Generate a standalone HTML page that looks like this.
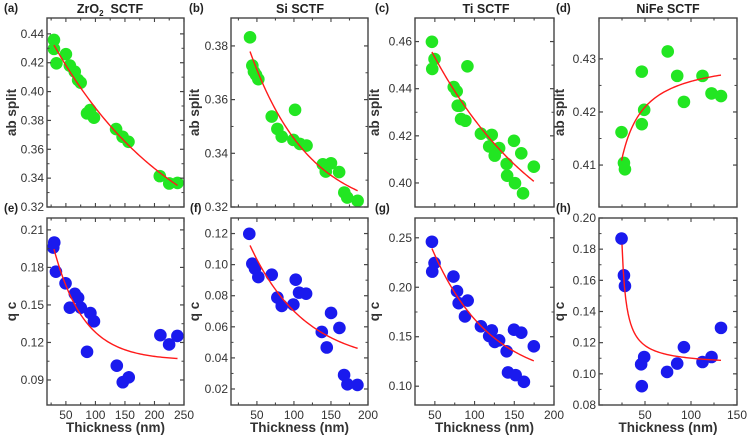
<!DOCTYPE html>
<html><head><meta charset="utf-8">
<style>
html,body{margin:0;padding:0;background:#fff;}
svg{display:block;font-family:"Liberation Sans",Arial,sans-serif;}
</style></head>
<body>
<svg id="fig" width="747" height="440" viewBox="0 0 747 440" xmlns="http://www.w3.org/2000/svg"></svg>
<script>
// ---- data (thickness nm, values) ----
const aX=[29.8,29.8,34,50,56.7,65,70.7,75,85.8,91,97.5,135,146,156,209,225,239];
const aY=[0.4358,0.4296,0.4196,0.4259,0.418,0.4138,0.408,0.4062,0.3849,0.3872,0.3819,0.374,0.3687,0.3652,0.3414,0.3363,0.3367];
const bX=[40.7,43.8,46,48.8,51.9,70,77.6,83.5,101.5,99.2,108,117,139,143,150,161,168,172,186];
const bY=[0.3832,0.3727,0.3704,0.3692,0.3676,0.3537,0.3491,0.3462,0.3562,0.345,0.3435,0.3429,0.3359,0.3332,0.3363,0.333,0.3254,0.3235,0.3223];
const cX=[46.3,49.6,46.7,91,73.8,77.5,78.8,81.7,83,88.4,108,121.6,118.4,130.9,125.4,140.4,141,149.6,150.9,158.8,161,174.6];
const cY=[0.4599,0.4526,0.4484,0.4495,0.4407,0.4389,0.4328,0.4328,0.4271,0.4264,0.4209,0.4204,0.4155,0.4148,0.4116,0.4081,0.4031,0.4179,0.3999,0.4126,0.3956,0.4069];
const dX=[24.5,27.1,28.2,46.5,46.5,49.1,74.7,85,92.3,112.5,122.3,132.6];
const dY=[0.4162,0.4104,0.4092,0.4276,0.4177,0.4204,0.4314,0.4268,0.4219,0.4268,0.4235,0.423];
const eX=[30.3,28.6,33.1,49.4,65.1,70.7,56.7,75.2,91.5,97.5,85.8,136.2,146.3,156.4,210,224.8,238.8];
const eY=[0.1999,0.1959,0.1766,0.1673,0.1589,0.1557,0.1478,0.1478,0.1435,0.1369,0.1125,0.1014,0.0882,0.0921,0.1258,0.1184,0.1252];
const fX=[39.7,43.8,47.4,51.9,70,77.6,83.5,99.2,102.4,106.9,116.4,137.6,144.3,150.1,161.4,167.7,172.2,185.7];
const fY=[0.1198,0.1006,0.0974,0.092,0.0935,0.0788,0.0734,0.0743,0.0903,0.082,0.0813,0.0567,0.0467,0.0689,0.0593,0.029,0.023,0.0226];
const gX=[46.3,49.6,46.7,73.4,77.9,80,91.3,87.9,108,121.7,118.4,125.4,130.9,140.4,142.1,149.6,151.7,158.8,162.1,174.6];
const gY=[0.246,0.2245,0.2158,0.2108,0.196,0.1839,0.1866,0.1705,0.1605,0.1564,0.1507,0.1447,0.1464,0.1353,0.1139,0.1571,0.1112,0.1541,0.1044,0.1403];
const hX=[24.5,27.1,28.2,45.8,49.1,46.5,74,85,92.3,112.5,122.3,132.6];
const hY=[0.1868,0.1632,0.1564,0.1061,0.1108,0.0921,0.1012,0.1066,0.1171,0.1076,0.1108,0.1295];
// fit parameters
const aFit=[0.2754,0.180,216]; const bFit=[0.316,0.103,80]; const cFit=[0.3601,0.130,150];
const dFit=[0.4306,-0.484,0]; const eFit=[0.1057,0.1595,51]; const fFit=[0.035,0.1331,75];
const gFit=[0.1019,0.259,73]; const hFit=[0.1052,0.3888,20];
// ticks
const aTicks=["0.32","0.34","0.36","0.38","0.40","0.42","0.44"];
const bTicks=["0.32","0.34","0.36","0.38"];
const cTicks=["0.40","0.42","0.44","0.46"];
const dTicks=["0.41","0.42","0.43"];
const eTicks=["0.09","0.12","0.15","0.18","0.21"];
const fTicks=["0.02","0.04","0.06","0.08","0.10","0.12"];
const gTicks=["0.10","0.15","0.20","0.25"];
const hTicks=["0.08","0.10","0.12","0.14","0.16","0.18","0.20"];
const xTicksE=["50","100","150","200","250"];
const xTicksF=["50","100","150","200"];
const xTicksG=["50","100","150","200"];
const xTicksH=["50","100","150"];

const NS="http://www.w3.org/2000/svg";
const svg=document.getElementById('fig');
function mk(tag,attrs,parent){const e=document.createElementNS(NS,tag);for(const k in attrs)e.setAttribute(k,attrs[k]);(parent||svg).appendChild(e);return e;}
function txt(s,attrs,parent){const e=mk('text',attrs,parent);e.textContent=s;return e;}

function fitFn(kind,p){
  if(kind==='exp')return x=>p[0]+p[1]*Math.exp(-x/p[2]);
  return x=>p[0]+p[1]/(x-p[2]);
}

function panel(o){
  const g=mk('g',{});
  
  
  const L=o.box[0],R=o.box[1],T=o.box[2],B=o.box[3];
  const sx=v=>L+(v-o.xr[0])/(o.xr[1]-o.xr[0])*(R-L);
  const sy=v=>B-(v-o.yr[0])/(o.yr[1]-o.yr[0])*(B-T);
  const f=fitFn(o.kind,o.fit);
  let d='';const n=80;
  for(let i=0;i<=n;i++){const x=o.fx[0]+(o.fx[1]-o.fx[0])*i/n;d+=(i?'L':'M')+sx(x).toFixed(2)+' '+sy(f(x)).toFixed(2);}
  for(let i=0;i<o.xs.length;i++){
    const c=mk('circle',{cx:sx(o.xs[i]),cy:sy(o.ys[i]),r:6.3,fill:o.color},g);
    
    
  }
  const fl=mk('path',{d:d,fill:'none',stroke:'#ff1a1a','stroke-width':1.4},g);
  
  
  const fr=mk('rect',{x:L,y:T,width:R-L,height:B-T,fill:'none',stroke:'#444','stroke-width':1.4},g);
  
  
  o.yt.forEach((s,i)=>{
    const v=parseFloat(s);const y=sy(v);
    mk('line',{x1:L,x2:L+4,y1:y,y2:y,stroke:'#444','stroke-width':1.2},g);
    mk('line',{x1:R,x2:R-4,y1:y,y2:y,stroke:'#444','stroke-width':1.2},g);
    const t=txt(s,{x:L-3,y:y+4,'font-size':12,'text-anchor':'end',fill:'#333'},g);
    
    
    if(i<o.yt.length-1){const vm=(v+parseFloat(o.yt[i+1]))/2;const ym=sy(vm);
      mk('line',{x1:L,x2:L+2.5,y1:ym,y2:ym,stroke:'#444','stroke-width':1},g);
      mk('line',{x1:R,x2:R-2.5,y1:ym,y2:ym,stroke:'#444','stroke-width':1},g);}
  });
  for(let v=o.xstep/2*Math.ceil(o.xr[0]/(o.xstep/2));v<=o.xr[1]+0.01;v+=o.xstep/2){
    const x=sx(v);const maj=Math.abs(v/o.xstep-Math.round(v/o.xstep))<0.01;const len=maj?4:2.5;
    mk('line',{x1:x,x2:x,y1:B,y2:B-len,stroke:'#444','stroke-width':1.1},g);
    mk('line',{x1:x,x2:x,y1:T,y2:T+len,stroke:'#444','stroke-width':1.1},g);
  }
  if(o.xt){o.xt.forEach(s=>{const x=sx(parseFloat(s));
    const t=txt(s,{x:x,y:B+14,'font-size':12,'text-anchor':'middle',fill:'#333'},g);
    
    });
    const xt=txt('Thickness (nm)',{x:(L+R)/2,y:B+27,'font-size':13.5,'font-weight':'bold','text-anchor':'middle',fill:'#333'},g);
    
    
  }
  const yl=txt(o.ylab,{x:0,y:0,'font-size':13.5,'font-weight':'bold','text-anchor':'middle',fill:'#333',transform:`translate(${o.ylx},${(T+B)/2}) rotate(-90)`},g);
  
  
  const pl=txt(o.lab,{x:o.labx,y:T-6,'font-size':11.5,'font-weight':'bold',fill:'#222'},g);
  
  
}

panel({name:'panel-a',box:[47,184,18,207],xr:[18,250],yr:[0.32,0.451],xs:aX,ys:aY,color:'#22e622',kind:'exp',fit:aFit,fx:[29.8,239],yt:aTicks,xstep:50,ylab:'ab split',ylx:16,lab:'(a)',labx:4});
panel({name:'panel-b',box:[231,368,18,207],xr:[15,200],yr:[0.32,0.3904],xs:bX,ys:bY,color:'#22e622',kind:'exp',fit:bFit,fx:[40.7,186],yt:bTicks,xstep:50,ylab:'ab split',ylx:199,lab:'(b)',labx:189});
panel({name:'panel-c',box:[415,554,18,207],xr:[25,200],yr:[0.3898,0.470],xs:cX,ys:cY,color:'#22e622',kind:'exp',fit:cFit,fx:[46.3,174.6],yt:cTicks,xstep:50,ylab:'ab split',ylx:379,lab:'(c)',labx:375});
panel({name:'panel-d',box:[599,737,18,207],xr:[0,150],yr:[0.4021,0.4377],xs:dX,ys:dY,color:'#22e622',kind:'inv',fit:dFit,fx:[24.5,132.6],yt:dTicks,xstep:50,ylab:'ab split',ylx:564,lab:'(d)',labx:556});
panel({name:'panel-e',box:[47,184,218,405],xr:[18,250],yr:[0.070,0.2195],xs:eX,ys:eY,color:'#1a1aee',kind:'exp',fit:eFit,fx:[29.8,239],yt:eTicks,xt:xTicksE,xstep:50,ylab:'q c',ylx:16,lab:'(e)',labx:4});
panel({name:'panel-f',box:[231,368,218,405],xr:[15,200],yr:[0.0097,0.130],xs:fX,ys:fY,color:'#1a1aee',kind:'exp',fit:fFit,fx:[40.7,186],yt:fTicks,xt:xTicksF,xstep:50,ylab:'q c',ylx:199,lab:'(f)',labx:190});
panel({name:'panel-g',box:[415,554,218,405],xr:[25,200],yr:[0.081,0.270],xs:gX,ys:gY,color:'#1a1aee',kind:'exp',fit:gFit,fx:[46.3,174.6],yt:gTicks,xt:xTicksG,xstep:50,ylab:'q c',ylx:379,lab:'(g)',labx:375});
panel({name:'panel-h',box:[599,737,218,405],xr:[0,150],yr:[0.08,0.20],xs:hX,ys:hY,color:'#1a1aee',kind:'inv',fit:hFit,fx:[25,132.6],yt:hTicks,xt:xTicksH,xstep:50,ylab:'q c',ylx:564,lab:'(h)',labx:556});

const titles=[["ZrO",110,"title-zro2"],["Si SCTF",300,"title-si"],["Ti SCTF",486,"title-ti"],["NiFe SCTF",668,"title-nife"]];
titles.forEach(t=>{
  const e=mk('text',{x:t[1],y:13,'font-size':12.5,'font-weight':'bold','text-anchor':'middle',fill:'#222'});
  
  
  if(t[0]==="ZrO"){
    e.setAttribute('xml:space','preserve');
    e.textContent='ZrO';
    const s=mk('tspan',{'font-size':8,dy:3},e);s.textContent='2';
    const r=mk('tspan',{dy:-3},e);r.textContent='\u00a0 SCTF';
  } else e.textContent=t[0];
});
</script>
</body></html>
